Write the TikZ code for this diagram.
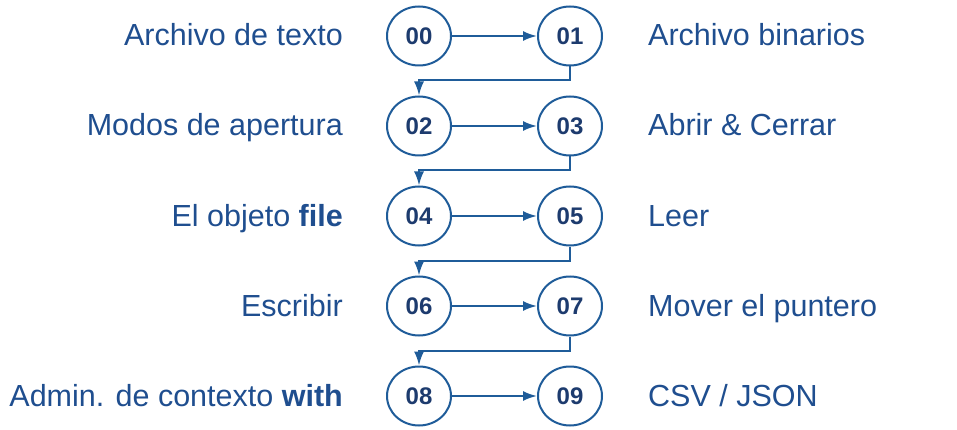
\documentclass[tikz,border=0pt]{standalone}
\usepackage{fontspec}
\setmainfont{Liberation Sans}
\usepackage{tikz}
\usetikzlibrary{shapes.geometric, arrows.meta}
\definecolor{lineablue}{HTML}{1F5C99}
\definecolor{textoblue}{HTML}{1F4E8F}
\definecolor{numblue}{HTML}{1D3B6E}
\tikzset{
  tema/.style={ellipse, draw=lineablue, line width=2pt, fill=white, minimum width=64pt, minimum height=59pt, inner sep=0pt, text=numblue, font=\fontsize{24}{26}\selectfont\bfseries},
  etiqueta/.style={inner sep=0pt, text=textoblue, font=\fontsize{30.5}{33}\selectfont},
  flecha/.style={draw=lineablue, line width=2pt, -{Latex[length=14pt,width=10pt]}}
}
\begin{document}
\begin{tikzpicture}[x=1pt, y=-1pt]

    \useasboundingbox (0,0) rectangle (957,430);

    % Temas y etiquetas
    \foreach \r/\a/\b/\la/\lb in {
        0/00/01/{Archivo de texto}/{Archivo binarios},
        1/02/03/{Modos de apertura}/{Abrir \& Cerrar},
        2/04/05/{El objeto \textbf{file}}/{Leer},
        3/06/07/{Escribir}/{Mover el puntero},
        4/08/09/{Admin. de contexto \textbf{with}}/{CSV / JSON}
    } {
        \node[tema] (n\a) at (419, 36+90*\r) {\a};
        \node[tema] (n\b) at (570, 36+90*\r) {\b};
        \node[etiqueta, anchor=base east] (l\a) at (343, 46+90*\r) {\la};
        \node[etiqueta, anchor=base west] (l\b) at (648, 46+90*\r) {\lb};
        \draw[flecha] (n\a) -- (n\b);
    }

    % Conexiones entre filas
    \foreach \a/\b in {01/02, 03/04, 05/06, 07/08} {
        \draw[flecha] (n\a.south) -- ++(0,14) -| (n\b.north);
    }

\end{tikzpicture}
\end{document}
